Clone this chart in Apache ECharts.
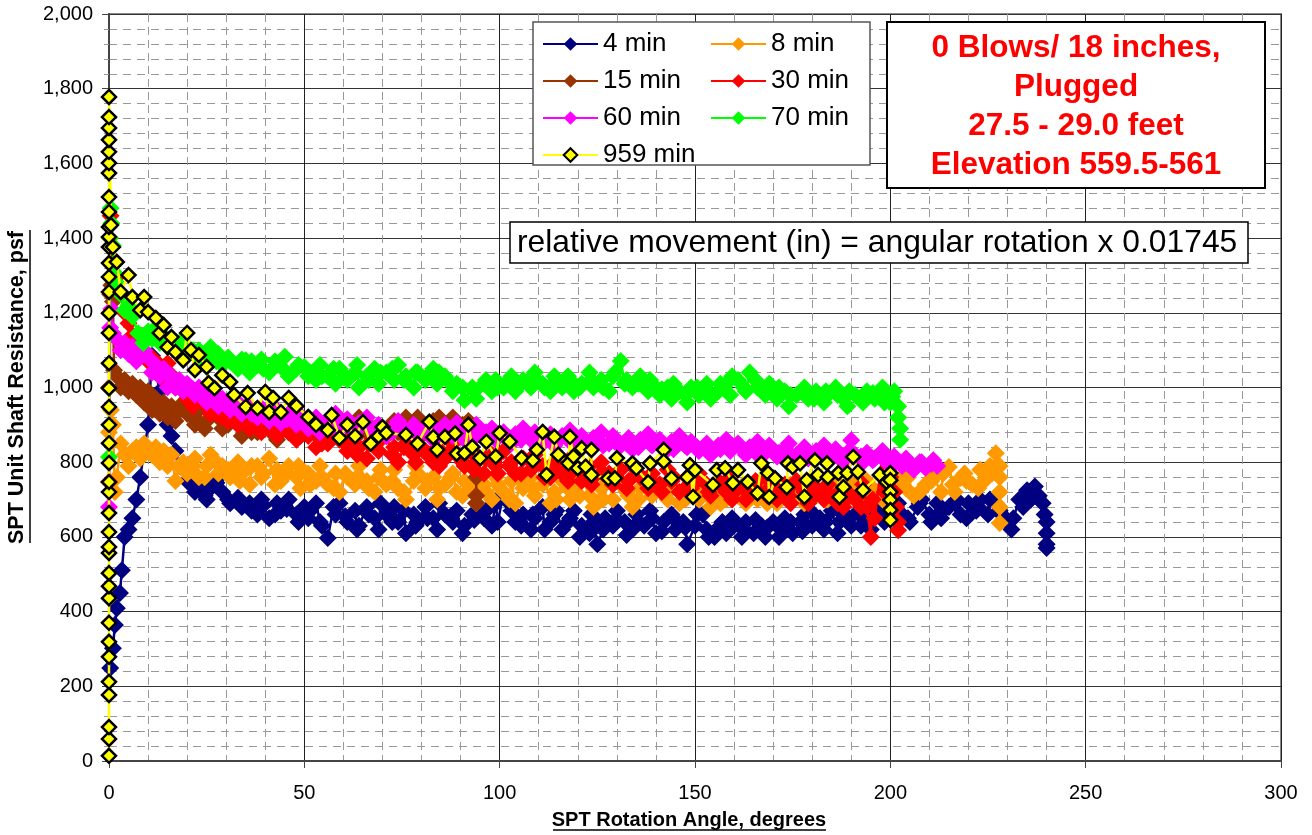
<!DOCTYPE html>
<html><head><meta charset="utf-8">
<script src="https://cdn.jsdelivr.net/npm/echarts@6/dist/echarts.min.js"></script>
<style>html,body{margin:0;padding:0;background:#fff}#c{width:1312px;height:835px}</style>
</head><body><div id="c"></div>
<script>
const FONT = '"Liberation Sans", Arial, sans-serif';
const seriesNames = ['4 min','8 min','15 min','30 min','60 min','70 min','959 min'];
const seriesColors = ['#000080','#FF9900','#993300','#FF0000','#FF00FF','#00FF00','#FFFF00'];
const xTickValues = [0,50,100,150,200,250,300];
const yTickValues = [0,200,400,600,800,1000,1200,1400,1600,1800,2000];
const infoLines = ['0 Blows/ 18 inches,','Plugged','27.5 - 29.0 feet','Elevation 559.5-561'];
const noteText = 'relative movement (in) = angular rotation x 0.01745';
const xTitle = 'SPT Rotation Angle, degrees';
const yTitle = 'SPT Unit Shaft Resistance, psf';

const d4 = [[0.3,249],[1,302],[1.5,364],[2,409],[2.8,450],[3.3,511],[4,600],[5,620],[6,650],[7,700],[8,760],[9,830],[10,900],[11,1085],[12,1040],[13,990],[14,930],[15,900],[16,870],[17,830],[18,790],[20,750],[22,720],[23,745],[25,700],[26,730],[28,760],[29,720],[31,690],[33,705],[34,680],[36,690],[38,660],[39,700],[41,650],[43,690],[44,670],[46,700],[48,660],[50,680],[51,650],[53,690],[54,640],[56,597],[58,660],[59,690],[61,640],[63,670],[64,630],[66,680],[68,650],[69,620],[71,660],[73,680],[74,640],[76,610],[78,660],[79,640],[81,680],[83,650],[84,620],[86,660],[88,640],[89,670],[91,630],[93,660],[94,690],[96,650],[98,630],[99,690],[101,717],[103,670],[104,640],[106,660],[108,620],[109,650],[111,680],[113,640],[114,660],[116,620],[118,650],[119,670],[121,630],[123,610],[124,640],[125,580],[127,650],[129,630],[130,670],[132,640],[134,620],[135,660],[137,630],[139,650],[140,610],[142,640],[144,660],[145,620],[147,640],[148,580],[150,630],[152,660],[153,620],[155,600],[157,640],[158,610],[160,630],[162,600],[163,640],[165,610],[167,630],[168,600],[170,640],[172,620],[173,650],[175,610],[177,640],[178,660],[180,630],[182,650],[183,620],[185,670],[187,640],[188,660],[190,630],[192,670],[193,650],[195,620],[197,660],[198,680],[200,650],[202,690],[203,660],[205,640],[207,680],[208,700],[210,660],[212,690],[213,650],[215,680],[217,700],[218,660],[220,690],[222,670],[223,700],[225,660],[227,690],[228,670],[230,640],[231,620],[233,700],[234,680],[235,725],[236,700],[237,735],[238,710],[239,690],[239.5,660],[240,640],[240,610],[240,580],[240,570]];
const d4b = [[21.5,735],[24.5,710],[27.5,745],[30.5,700],[33.5,690],[36.5,670],[39.5,685],[42.5,660],[45.5,675],[48.5,640],[51.5,670],[54.5,630],[57.5,680],[60.5,655],[63.5,620],[66.5,660],[69.5,690],[72.5,640],[75.5,670],[78.5,630],[81.5,650],[84.5,690],[87.5,655],[90.5,610],[93.5,645],[96.5,670],[99.5,640],[102.5,690],[105.5,630],[108.5,660],[111.5,620],[114.5,670],[117.5,640],[120.5,600],[123.5,660],[126.5,620],[129.5,645],[132.5,605],[135.5,640],[138.5,670],[141.5,615],[144.5,650],[147.5,625],[150.5,660],[153.5,600],[156.5,630],[159.5,650],[162.5,620],[165.5,645],[168.5,625],[171.5,600],[174.5,640],[177.5,615],[180.5,660],[183.5,640],[186.5,610],[189.5,650],[192.5,630],[195.5,665],[198.5,640],[201.5,670],[204.5,650],[207.5,690],[210.5,640],[213.5,670],[216.5,690],[219.5,650],[222.5,680],[225.5,700],[228.5,660],[231.5,650],[234.5,700]];

const d8 = [[0,880],[0.5,940],[1,900],[1.5,720],[2,760],[3,850],[4,820],[5,790],[6,830],[7,840],[8,810],[9,850],[10,830],[11,820],[12,840],[13,800],[14,830],[15,790],[16,820],[17,750],[18,790],[19,800],[20,770],[22,810],[23,760],[25,790],[26,820],[28,770],[29,790],[31,760],[33,800],[34,770],[36,740],[38,790],[39,760],[41,810],[43,780],[44,750],[46,790],[48,760],[49,730],[51,770],[53,750],[54,790],[56,740],[58,770],[59,720],[61,760],[63,740],[64,790],[66,750],[68,720],[69,760],[71,740],[73,780],[74,730],[76,700],[78,750],[79,770],[81,730],[83,760],[84,700],[86,740],[88,770],[89,720],[91,750],[93,730],[94,690],[96,740],[98,700],[99,760],[101,720],[103,750],[104,690],[106,730],[108,760],[109,710],[111,740],[113,690],[114,720],[116,750],[118,700],[119,730],[121,760],[123,710],[124,680],[126,730],[128,750],[129,700],[131,740],[133,710],[134,680],[136,730],[138,760],[139,710],[141,740],[143,700],[144,730],[146,690],[148,720],[149,750],[151,700],[153,730],[154,680],[156,720],[158,700],[159,740],[161,710],[163,690],[164,730],[166,700],[168,740],[169,710],[171,690],[173,730],[174,700],[176,720],[178,690],[179,740],[181,710],[183,730],[184,700],[186,750],[188,720],[189,700],[191,740],[193,710],[194,750],[196,720],[198,700],[199,740],[201,720],[203,760],[204,730],[206,710],[208,725],[209,740],[211,760],[213,720],[215,787],[216,740],[218,758],[219,770],[221,740],[223,780],[224,750],[226,770],[227,824],[228,790],[228,760],[228,720],[228,680],[228,637]];
const d8b = [[21.5,790],[24.5,760],[27.5,800],[30.5,780],[33.5,750],[36.5,790],[39.5,770],[42.5,740],[45.5,770],[48.5,790],[51.5,740],[54.5,760],[57.5,730],[60.5,770],[63.5,760],[66.5,730],[69.5,780],[72.5,750],[75.5,720],[78.5,790],[81.5,750],[84.5,730],[87.5,760],[90.5,710],[93.5,750],[96.5,720],[99.5,740],[102.5,700],[105.5,750],[108.5,730],[111.5,760],[114.5,700],[117.5,730],[120.5,710],[123.5,740],[126.5,700],[129.5,760],[132.5,720],[135.5,700],[138.5,740],[141.5,720],[144.5,760],[147.5,700],[150.5,730],[153.5,710],[156.5,690],[159.5,720],[162.5,740],[165.5,710],[168.5,690],[171.5,720],[174.5,740],[177.5,710],[180.5,730],[183.5,700],[186.5,720],[189.5,740],[192.5,700],[195.5,730],[198.5,710],[201.5,740],[204.5,760],[207.5,720],[210.5,750],[213.5,770],[216.5,720],[219.5,750],[222.5,730],[225.5,790]];

const d15 = [[0,1000],[0.3,1250],[0.6,1274],[1,1230],[1.3,1046],[2,1030],[3,1000],[4,1020],[5,990],[6,1010],[7,980],[8,1000],[9,960],[10,990],[11,940],[12,970],[13,930],[14,960],[15,920],[16,950],[17,910],[18,940],[19,960],[20,930],[22,900],[23,940],[25,910],[26,950],[28,920],[29,890],[31,930],[33,900],[34,870],[36,910],[38,880],[39,920],[41,890],[43,860],[44,900],[46,880],[48,910],[49,870],[51,900],[53,880],[54,850],[56,890],[58,870],[59,900],[61,860],[63,890],[64,920],[66,880],[68,850],[69,890],[71,870],[73,910],[74,880],[76,920],[78,890],[79,920],[81,880],[83,910],[84,870],[86,900],[88,920],[89,890],[91,870],[92,910],[93,880],[93.5,820],[94,760],[94,710],[94,690]];
const d15b = [[21.5,920],[24.5,890],[27.5,930],[30.5,900],[33.5,920],[36.5,880],[39.5,900],[42.5,870],[45.5,900],[48.5,880],[51.5,910],[54.5,870],[57.5,890],[60.5,910],[63.5,870],[66.5,900],[69.5,880],[72.5,900],[75.5,870],[78.5,910],[81.5,890],[84.5,920],[87.5,880],[90.5,900]];

const d30 = [[0,747],[0.2,1400],[0.4,1460],[0.6,1380],[1,1330],[2,1296],[3,1250],[4,1200],[5,1172],[6,1140],[7,1120],[8,1100],[9,1090],[10,1070],[11,1080],[12,1065],[13,1060],[14,1020],[15,1065],[16,1033],[17,1000],[18,1010],[19,990],[20,970],[22,960],[23,990],[25,950],[26,930],[28,960],[29,920],[31,950],[33,900],[34,930],[36,890],[38,920],[39,880],[41,910],[43,870],[44,900],[46,880],[48,860],[49,900],[51,870],[53,840],[54,880],[56,850],[58,890],[59,860],[61,830],[63,870],[64,840],[66,810],[68,860],[69,830],[71,870],[73,840],[74,800],[76,850],[78,820],[79,860],[81,830],[83,800],[84,840],[86,810],[88,850],[89,820],[91,790],[93,830],[94,800],[96,770],[98,820],[99,790],[101,830],[103,800],[104,770],[106,810],[108,780],[109,820],[111,790],[113,760],[114,800],[116,770],[118,810],[119,780],[121,750],[123,790],[124,760],[126,800],[128,770],[129,740],[131,780],[133,750],[134,790],[136,760],[138,730],[139,770],[141,740],[143,780],[144,750],[146,720],[148,760],[149,730],[151,770],[153,740],[154,710],[156,750],[158,720],[159,760],[161,730],[163,700],[164,740],[166,720],[168,760],[169,730],[171,700],[173,740],[174,710],[176,750],[178,720],[179,690],[181,730],[183,700],[184,740],[186,710],[188,680],[189,720],[191,700],[193,740],[194,680],[195,600],[196,650],[198,820],[199,740],[200,760],[201,720],[201.5,680],[202,640],[202,618]];
const d30b = [[21.5,950],[24.5,970],[27.5,930],[30.5,910],[33.5,940],[36.5,900],[39.5,920],[42.5,880],[45.5,900],[48.5,870],[51.5,890],[54.5,850],[57.5,870],[60.5,850],[63.5,820],[66.5,850],[69.5,860],[72.5,820],[75.5,840],[78.5,800],[81.5,820],[84.5,790],[87.5,830],[90.5,800],[93.5,780],[96.5,810],[99.5,770],[102.5,790],[105.5,770],[108.5,800],[111.5,760],[114.5,780],[117.5,750],[120.5,780],[123.5,740],[126.5,770],[129.5,760],[132.5,730],[135.5,770],[138.5,750],[141.5,720],[144.5,760],[147.5,730],[150.5,750],[153.5,720],[156.5,740],[159.5,700],[162.5,730],[165.5,750],[168.5,710],[171.5,730],[174.5,690],[177.5,730],[180.5,710],[183.5,720],[186.5,690],[189.5,710],[192.5,680],[195.5,700],[198.5,720]];

const d60 = [[0,680],[0.3,1160],[0.6,1210],[1,1145],[2,1130],[3,1100],[4,1120],[5,1090],[6,1110],[7,1070],[8,1090],[9,1100],[10,1080],[11,1040],[12,1060],[13,1030],[14,1050],[15,1001],[16,1030],[17,1000],[18,1020],[19,990],[20,1010],[22,980],[23,1000],[25,960],[26,990],[28,950],[29,970],[31,940],[33,960],[34,930],[36,950],[38,920],[39,945],[41,910],[43,940],[44,905],[46,930],[48,900],[49,925],[51,890],[53,920],[54,880],[56,910],[58,930],[59,890],[61,915],[63,880],[64,905],[66,920],[68,880],[69,900],[71,870],[73,895],[74,910],[76,875],[78,900],[79,870],[81,890],[83,860],[84,885],[86,900],[88,870],[89,905],[91,860],[93,880],[94,900],[96,870],[98,890],[99,860],[101,880],[103,850],[104,875],[106,890],[108,860],[109,880],[111,850],[113,875],[114,845],[116,870],[118,885],[119,855],[121,870],[123,840],[124,865],[126,880],[128,850],[129,870],[131,845],[133,865],[134,835],[136,860],[138,875],[139,845],[141,860],[143,835],[144,855],[146,870],[148,840],[149,855],[151,830],[153,850],[154,820],[156,845],[158,860],[159,830],[161,850],[163,820],[164,840],[166,855],[168,825],[169,845],[171,815],[173,835],[174,850],[176,820],[178,840],[179,810],[181,830],[183,845],[184,815],[186,835],[188,805],[189,825],[190,859],[191,820],[193,800],[194,825],[196,810],[198,830],[199,800],[201,815],[203,790],[204,810],[206,780],[208,800],[209,785],[211,805],[212,790]];
const d60b = [[21.5,995],[24.5,970],[27.5,980],[30.5,955],[33.5,945],[36.5,930],[39.5,925],[42.5,920],[45.5,915],[48.5,910],[51.5,905],[54.5,900],[57.5,895],[60.5,900],[63.5,890],[66.5,895],[69.5,885],[72.5,880],[75.5,890],[78.5,875],[81.5,880],[84.5,870],[87.5,885],[90.5,875],[93.5,865],[96.5,880],[99.5,870],[102.5,865],[105.5,860],[108.5,870],[111.5,865],[114.5,855],[117.5,860],[120.5,850],[123.5,855],[126.5,845],[129.5,855],[132.5,850],[135.5,840],[138.5,850],[141.5,845],[144.5,835],[147.5,845],[150.5,840],[153.5,830],[156.5,835],[159.5,845],[162.5,830],[165.5,825],[168.5,835],[171.5,825],[174.5,820],[177.5,830],[180.5,815],[183.5,825],[186.5,815],[189.5,810],[192.5,815],[195.5,805],[198.5,810],[201.5,800],[204.5,795],[207.5,800],[210.5,795]];

const d70 = [[0,814],[0.2,1400],[0.4,1480],[0.6,1440],[1,1380],[1.5,1306],[2,1280],[3,1250],[4,1207],[5,1220],[6,1190],[7.5,1145],[8.8,1119],[10,1150],[11,1130],[12,1160],[13,1120],[14,1140],[15,1109],[16,1130],[17,1100],[18,1120],[19,1090],[20,1110],[22,1090],[23,1100],[25,1060],[26,1108],[28,1090],[29,1060],[31,1070],[33,1050],[34,1075],[35,1073],[36,1040],[38,1060],[39,1075],[41,1040],[43,1060],[45,1082],[46,1030],[48,1050],[50,1055],[51,1030],[53,1020],[54,1060],[56,1030],[58,1010],[59,1050],[61,1020],[63,1040],[64,1000],[66,1030],[68,1050],[69,1010],[71,1040],[73,1020],[74,1060],[76,1030],[78,1000],[79,1040],[81,1020],[83,1050],[84,1010],[86,1030],[88,990],[89,1010],[91,966],[93,1000],[94,970],[96,1010],[98,990],[99,1020],[101,1000],[103,1030],[104,990],[106,1020],[108,1000],[109,1040],[111,1010],[113,990],[114,1030],[116,1000],[118,1020],[119,990],[121,1010],[123,1040],[124,1000],[126,1020],[128,990],[129,1030],[131,1071],[132,1010],[134,1000],[136,1030],[138,990],[139,1010],[141,980],[143,1000],[144,970],[146,990],[148,960],[149,1000],[151,980],[153,1010],[154,970],[156,990],[158,1010],[159,980],[161,1020],[163,990],[164,1040],[166,1000],[168,980],[169,1010],[171,970],[173,990],[174,950],[176,980],[178,1000],[179,970],[181,990],[183,960],[184,980],[186,1000],[188,970],[189,950],[191,980],[193,960],[194,990],[196,970],[198,1000],[199,980],[200,960],[201,990],[202,950],[202,920],[202.5,890],[202.5,860]];
const d70b = [[21.5,1100],[24.5,1080],[27.5,1070],[30.5,1080],[33.5,1060],[36.5,1070],[39.5,1050],[42.5,1070],[45.5,1040],[48.5,1060],[51.5,1040],[54.5,1030],[57.5,1050],[60.5,1030],[63.5,1060],[66.5,1020],[69.5,1040],[72.5,1050],[75.5,1020],[78.5,1040],[81.5,1030],[84.5,1040],[87.5,1010],[90.5,1000],[93.5,990],[96.5,1020],[99.5,1000],[102.5,1020],[105.5,1010],[108.5,1030],[111.5,1000],[114.5,1020],[117.5,1030],[120.5,1000],[123.5,1020],[126.5,1000],[129.5,1040],[132.5,1020],[135.5,1010],[138.5,1020],[141.5,995],[144.5,1010],[147.5,980],[150.5,1000],[153.5,990],[156.5,1010],[159.5,1030],[162.5,1000],[165.5,1020],[168.5,990],[171.5,1000],[174.5,980],[177.5,990],[180.5,970],[183.5,990],[186.5,980],[189.5,990],[192.5,970],[195.5,985],[198.5,960],[200.5,975]];

const d959 = [[0,14],[0,59],[0,91],[0,177],[0,212],[0,279],[0,319],[0,370],[0,436],[0,468],[0,503],[0,557],[0,573],[0,613],[0,664],[0,720],[0,747],[0,798],[0,851],[0,900],[0,948],[0,998],[0,1065],[0,1146],[0,1199],[0,1256],[0,1296],[0,1333],[0,1376],[0,1403],[0,1430],[0,1470],[0,1510],[0,1574],[0,1601],[0,1631],[0,1663],[0,1695],[0,1724],[0,1778],[0.5,1435],[1,1376],[2,1336],[3,1256],[5,1301],[6,1242],[8,1207],[9,1242],[10,1202],[12,1186],[13,1146],[14,1167],[15,1108],[16,1135],[17,1095],[19,1073],[20,1146],[21,1100],[22,1047],[23,1087],[25,1055],[25.5,1012],[27,998],[29,1033],[31,1015],[32,980],[35,948],[35.5,985],[38,945],[40,988],[41,934],[42,972],[44,934],[46,972],[48,950],[51,921],[53,900],[56,886],[57,926],[59,865],[61,900],[63,870],[65,907],[67,850],[69,870],[70,894],[71,878],[76,873],[79,850],[82,908],[83,867],[84,833],[86,868],[88.6,877],[89,823],[91,824],[92,900],[93,841],[95,811],[96.6,855],[99,815],[100,878],[102.6,855],[105.6,811],[108.5,805],[109.5,833],[111,881],[112,766],[114,868],[115,820],[117.6,797],[118,868],[118.9,815],[120,784],[121,837],[122,788],[123.5,833],[123.5,766],[127.8,757],[129.5,757],[130,811],[134,797],[135,784],[138,746],[138.5,797],[142,833],[142,802],[144,757],[148,760],[148.7,792],[149.5,707],[150,779],[154.6,739],[155.6,779],[157.7,784],[159.7,744],[161,779],[163.5,747],[166,717],[167,797],[168.7,771],[169,707],[170.5,757],[173.5,733],[173.8,797],[175,787],[176.9,797],[178,707],[178.6,752],[180.7,805],[181.5,766],[183.8,797],[184,760],[186.7,771],[187,707],[188,733],[189,771],[190.5,814],[191.7,774],[193,725],[197.3,766],[199,747],[200,771],[200,752],[200,720],[200,699],[200,672],[200,645]];

function mergeByX(a, b) { return a.concat(b).sort((p, q) => p[0] - q[0]); }
const allData = [mergeByX(d4, d4b), mergeByX(d8, d8b), mergeByX(d15, d15b), mergeByX(d30, d30b), mergeByX(d60, d60b), mergeByX(d70, d70b), d959];

const chart = echarts.init(document.getElementById('c'), null, {renderer: 'canvas'});

const series = seriesNames.map((name, i) => {
  const isLast = i === 6;
  return {
    name: name,
    type: 'line',
    data: allData[i],
    symbol: 'diamond',
    symbolSize: isLast ? 14 : 18,
    showSymbol: true,
    clip: false,
    color: seriesColors[i],
    itemStyle: isLast ? {color: '#FFFF00', borderColor: '#000', borderWidth: 2.5} : {color: seriesColors[i]},
    lineStyle: {color: seriesColors[i], width: 2.5},
    emphasis: {disabled: true},
    z: 2 + i
  };
});

const legendCommon = {
  orient: 'vertical', itemWidth: 55, itemHeight: 17, itemGap: 11, padding: 0,
  selectedMode: false, z: 10,
  textStyle: {fontSize: 26, fontFamily: FONT, color: '#000', lineHeight: 25}
};

chart.setOption({
  animation: false,
  backgroundColor: '#fff',
  grid: {left: 109, right: 31, top: 14, bottom: 74, show: true, borderColor: '#888', borderWidth: 2, backgroundColor: 'transparent', containLabel: false, outerBoundsMode: 'none'},
  xAxis: {
    type: 'value', min: 0, max: 300, interval: 50,
    name: xTitle, nameLocation: 'middle', nameGap: 49,
    nameTextStyle: {fontSize: 20, fontWeight: 'bold', fontFamily: FONT, color: '#000', verticalAlign: 'top', padding: [0, 12, 0, 0]},
    axisLine: {show: true, onZero: false, lineStyle: {color: '#444', width: 2}},
    axisTick: {show: true, inside: false, length: 7, lineStyle: {color: '#444', width: 1}},
    minorTick: {show: false, splitNumber: 5},
    axisLabel: {fontSize: 20, fontFamily: FONT, color: '#000', margin: 22,
      formatter: v => xTickValues.includes(v) ? String(v) : ''},
    splitLine: {show: true, lineStyle: {color: '#222', width: 1}},
    minorSplitLine: {show: true, lineStyle: {color: '#999', width: 1, type: [8, 5]}}
  },
  yAxis: {
    type: 'value', min: 0, max: 2000, interval: 200,
    name: yTitle, nameLocation: 'middle', nameGap: 81,
    nameTextStyle: {fontSize: 21.5, fontWeight: 'bold', fontFamily: FONT, color: '#000'},
    axisLine: {show: true, onZero: false, lineStyle: {color: '#444', width: 2}},
    axisTick: {show: true, inside: false, length: 7, lineStyle: {color: '#444', width: 1}},
    minorTick: {show: true, splitNumber: 5, length: 5, lineStyle: {color: '#999'}},
    axisLabel: {fontSize: 20, fontFamily: FONT, color: '#000', margin: 16,
      formatter: v => yTickValues.includes(v) ? v.toLocaleString('en-US') : ''},
    splitLine: {show: true, lineStyle: {color: '#333', width: 1}},
    minorSplitLine: {show: true, lineStyle: {color: '#999', width: 1, type: [8, 6]}}
  },
  legend: [
    Object.assign({}, legendCommon, {data: ['4 min','15 min','60 min','959 min'], left: 542, top: 31}),
    Object.assign({}, legendCommon, {data: ['8 min','30 min','70 min'], left: 710, top: 31})
  ],
  graphic: [
    {type: 'rect', z: 5, shape: {x: 533, y: 22, width: 337, height: 143}, style: {fill: '#fff', stroke: '#555', lineWidth: 1.5}},
    {type: 'rect', z: 5, shape: {x: 887, y: 22, width: 378, height: 166}, style: {fill: '#fff', stroke: '#000', lineWidth: 2}},
    ...infoLines.map((t, k) => ({type: 'text', z: 6, x: 1076, y: 48 + k * 39,
      style: {text: t, fill: '#FF0000', font: 'bold 31.5px ' + FONT, textAlign: 'center', textVerticalAlign: 'middle'}})),
    {type: 'rect', z: 5, shape: {x: 510, y: 222, width: 738, height: 41}, style: {fill: '#fff', stroke: '#000', lineWidth: 1.5}},
    {type: 'text', z: 6, x: 517, y: 243, style: {text: noteText, fill: '#000', font: '31.8px ' + FONT, textAlign: 'left', textVerticalAlign: 'middle'}},
    {type: 'line', z: 6, shape: {x1: 553, y1: 830, x2: 826, y2: 830}, style: {stroke: '#000', lineWidth: 1.5}},
    {type: 'line', z: 6, shape: {x1: 30, y1: 230, x2: 30, y2: 543}, style: {stroke: '#000', lineWidth: 1.5}}
  ],
  series: series
});
</script>
</body></html>
